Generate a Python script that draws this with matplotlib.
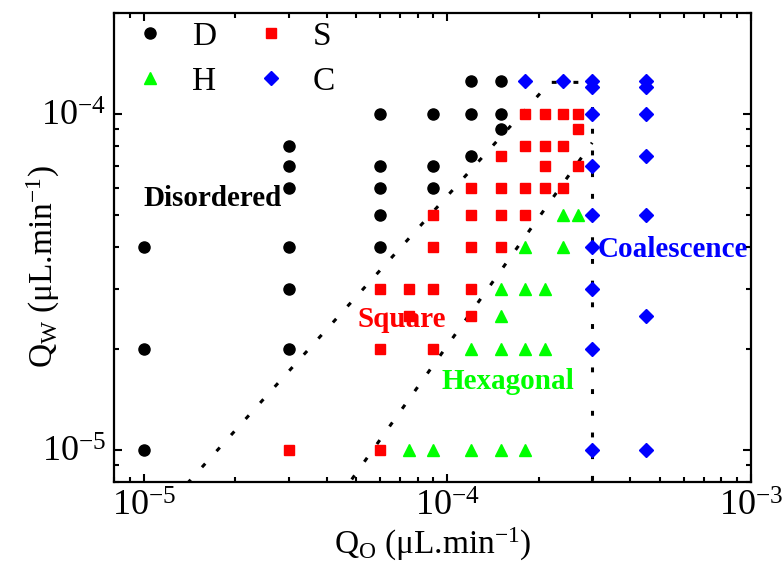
import numpy as np
import matplotlib
matplotlib.use('Agg')
import matplotlib.pyplot as plt

plt.rcParams['font.family'] = ['Liberation Serif', 'DejaVu Serif']
plt.rcParams['mathtext.fontset'] = 'custom'
plt.rcParams['mathtext.rm'] = 'Liberation Serif'
plt.rcParams['mathtext.it'] = 'Liberation Serif:italic'
plt.rcParams['mathtext.bf'] = 'Liberation Serif:bold'

# Disordered (D)
d_qo = [1e-5, 1e-5, 1e-5,
        3e-5, 3e-5, 3e-5, 3e-5, 3e-5, 3e-5,
        6e-5, 6e-5, 6e-5, 6e-5, 6e-5,
        9e-5, 9e-5, 9e-5,
        1.2e-4, 1.2e-4, 1.2e-4,
        1.5e-4, 1.5e-4, 1.5e-4]
d_qw = [4e-5, 2e-5, 1e-5,
        8e-5, 7e-5, 6e-5, 4e-5, 3e-5, 2e-5,
        1e-4, 7e-5, 6e-5, 5e-5, 4e-5,
        1e-4, 7e-5, 6e-5,
        1.25e-4, 1e-4, 7.5e-5,
        1.25e-4, 1e-4, 9e-5]

# Square (S)
s_qo = [3e-5,
        6e-5, 6e-5, 6e-5,
        7.5e-5, 7.5e-5,
        9e-5, 9e-5, 9e-5, 9e-5,
        1.2e-4, 1.2e-4, 1.2e-4, 1.2e-4, 1.2e-4,
        1.5e-4, 1.5e-4, 1.5e-4, 1.5e-4,
        1.8e-4, 1.8e-4, 1.8e-4, 1.8e-4,
        2.1e-4, 2.1e-4, 2.1e-4, 2.1e-4,
        2.4e-4, 2.4e-4, 2.4e-4,
        2.7e-4, 2.7e-4, 2.7e-4]
s_qw = [1e-5,
        3e-5, 2e-5, 1e-5,
        3e-5, 2.5e-5,
        5e-5, 4e-5, 3e-5, 2e-5,
        6e-5, 5e-5, 4e-5, 3e-5, 2.5e-5,
        7.5e-5, 6e-5, 5e-5, 4e-5,
        1e-4, 8e-5, 6e-5, 5e-5,
        1e-4, 8e-5, 7e-5, 6e-5,
        1e-4, 8e-5, 6e-5,
        1e-4, 9e-5, 7e-5]

# Hexagonal (H)
h_qo = [7.5e-5, 9e-5,
        1.2e-4, 1.2e-4,
        1.5e-4, 1.5e-4, 1.5e-4, 1.5e-4,
        1.8e-4, 1.8e-4, 1.8e-4, 1.8e-4,
        2.1e-4, 2.1e-4,
        2.4e-4, 2.4e-4,
        2.7e-4]
h_qw = [1e-5, 1e-5,
        2e-5, 1e-5,
        3e-5, 2.5e-5, 2e-5, 1e-5,
        4e-5, 3e-5, 2e-5, 1e-5,
        3e-5, 2e-5,
        5e-5, 4e-5,
        5e-5]

# Coalescence (C)
c_qo = [1.8e-4, 2.4e-4,
        3e-4, 3e-4, 3e-4, 3e-4, 3e-4, 3e-4, 3e-4, 3e-4, 3e-4,
        4.5e-4, 4.5e-4, 4.5e-4, 4.5e-4, 4.5e-4, 4.5e-4, 4.5e-4]
c_qw = [1.25e-4, 1.25e-4,
        1.25e-4, 1.2e-4, 1e-4, 7e-5, 5e-5, 4e-5, 3e-5, 2e-5, 1e-5,
        1.25e-4, 1.2e-4, 1e-4, 7.5e-5, 5e-5, 2.5e-5, 1e-5]

# regime boundaries
b1_qo = [1e-5, 2.18e-4, 3e-4]
b1_qw = [5.7e-6, 1.24e-4, 1.24e-4]
b2_qo = [4e-5, 3e-4]
b2_qw = [6.4e-6, 8.2e-5]
b3_qo = [3e-4, 3e-4]
b3_qw = [7e-6, 1.24e-4]

fig = plt.figure(figsize=(7.83, 5.74), dpi=100)
ax = fig.add_axes([0.146, 0.160, 0.813, 0.818])

dash = (0, (1.6, 5.5))
for bx, by in [(b1_qo, b1_qw), (b2_qo, b2_qw), (b3_qo, b3_qw)]:
    ax.plot(bx, by, color='black', lw=2.2, linestyle=dash, zorder=2)

hd, = ax.plot(d_qo, d_qw, 'o', color='black', ms=8, ls='none', zorder=3, label='D')
hs, = ax.plot(s_qo, s_qw, 's', color='#ff0000', ms=7.2, ls='none', zorder=3, label='S')
hh, = ax.plot(h_qo, h_qw, '^', color='#00ff00', ms=8.5, ls='none', zorder=3, label='H')
hc, = ax.plot(c_qo, c_qw, 'D', color='#0000ff', ms=7.5, ls='none', zorder=3, label='C')

ax.set_xscale('log')
ax.set_yscale('log')
ax.set_xlim(8e-6, 1e-3)
ax.set_ylim(8e-6, 2e-4)

ax.text(1e-5, 5.6e-5, 'Disordered', color='black', fontsize=21, fontweight='bold',
        va='center', ha='left', zorder=1)
ax.text(5.05e-5, 2.44e-5, 'Square', color='#ff0000', fontsize=21, fontweight='bold',
        va='center', ha='left', zorder=1)
ax.text(9.6e-5, 1.59e-5, 'Hexagonal', color='#00ff00', fontsize=21, fontweight='bold',
        va='center', ha='left', zorder=1)
ax.text(3.13e-4, 3.94e-5, 'Coalescence', color='#0000ff', fontsize=21, fontweight='bold',
        va='center', ha='left', zorder=1)

ax.set_xlabel(r'Q$_\mathrm{O}$ ($\mathrm{\mu}$L.min$^\mathrm{-1}$)', fontsize=24, labelpad=2)
ax.set_ylabel(r'Q$_\mathrm{W}$ ($\mathrm{\mu}$L.min$^\mathrm{-1}$)', fontsize=24)
ax.yaxis.set_label_coords(-0.082, 0.46)

ax.tick_params(which='both', direction='in', top=True, right=True, width=1.5)
ax.tick_params(which='major', length=6, labelsize=26, pad=6)
ax.tick_params(which='minor', length=3.5)
for sp in ax.spines.values():
    sp.set_linewidth(1.6)

ax.legend(handles=[hd, hh, hs, hc], ncol=2, loc='upper left',
          bbox_to_anchor=(0.030, 0.981), frameon=False, fontsize=24,
          handlelength=1.0, handletextpad=0.75, columnspacing=1.15,
          labelspacing=0.42, borderpad=0, borderaxespad=0, numpoints=1)

fig.savefig('out.png', dpi=100)
